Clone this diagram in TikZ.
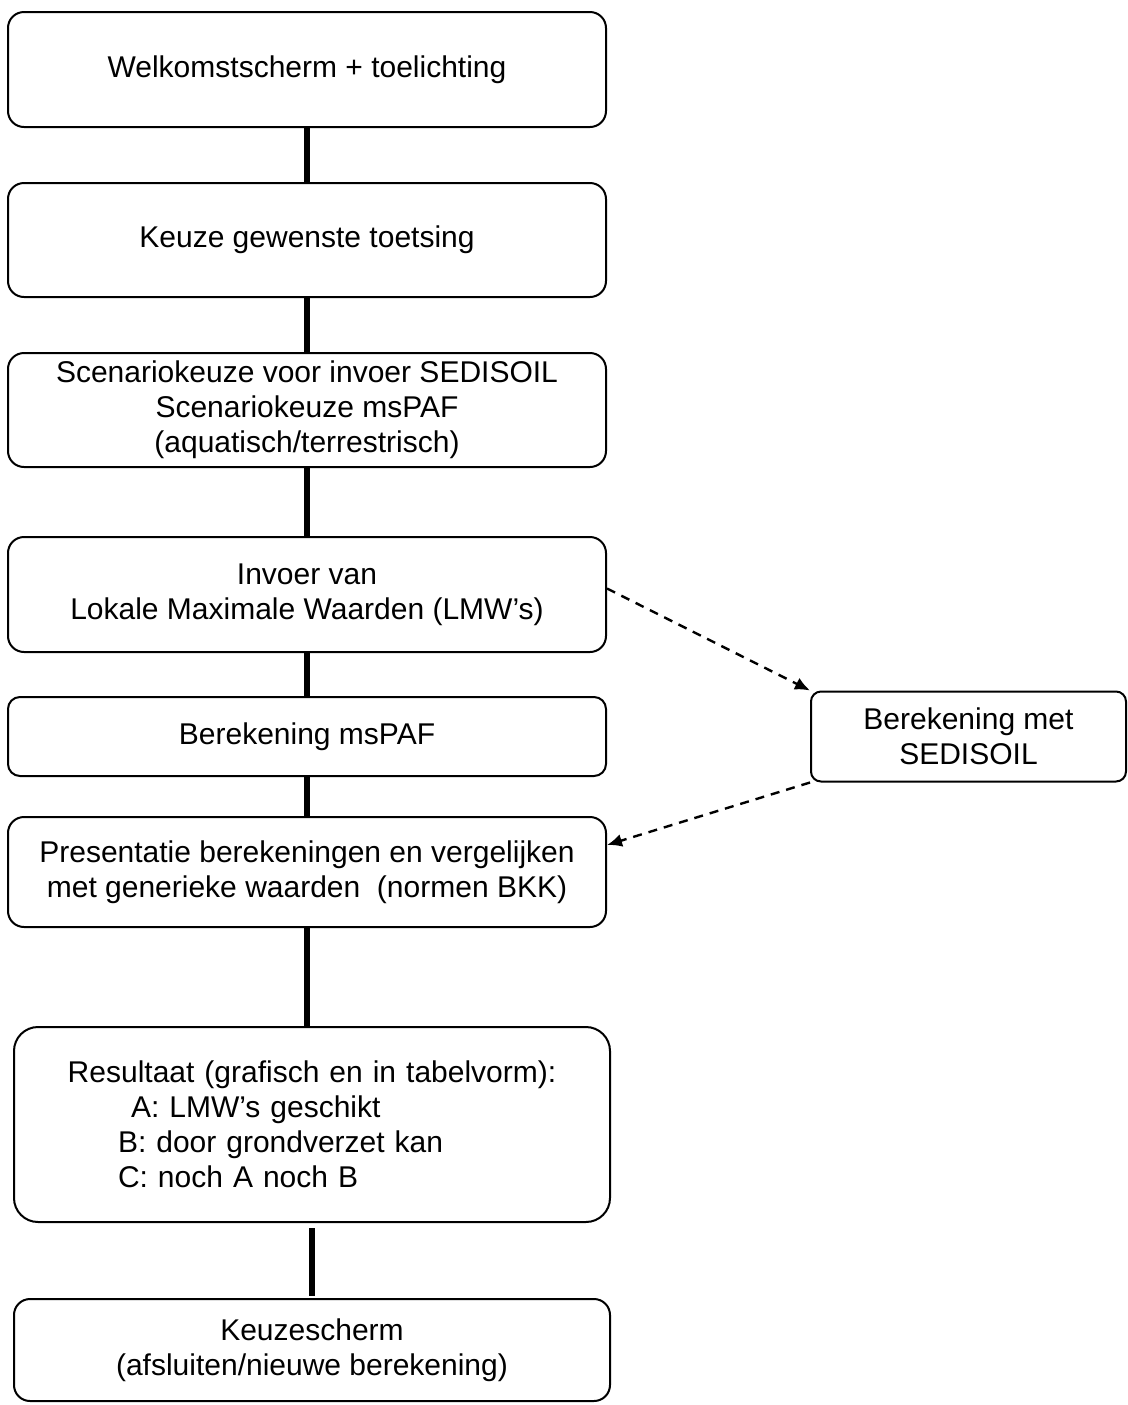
\documentclass[tikz,border=0pt]{standalone}
\usepackage{fontspec}
\setmainfont{Liberation Sans}
\usetikzlibrary{arrows.meta}
\begin{document}
\begin{tikzpicture}[x=0.5pt,y=-0.5pt]
	% Styles
	\tikzstyle{boite}=[draw,line width=1pt,rounded corners=8pt,minimum width=299pt,inner sep=0pt,align=center,font=\fontsize{15}{17.5}\selectfont]
	\tikzstyle{lien}=[-,line width=2.6pt]
	\tikzstyle{fleche}=[-{Latex[length=7.5pt,width=6.5pt]},line width=1.2pt,dash pattern=on 4.5pt off 3.5pt]
	% Cadre
	\useasboundingbox (0,0) rectangle (1128,1405);
	% Noeuds
	\node[boite,minimum height=57.5pt] (accueil) at (307,69.5) {Welkomstscherm + toelichting};
	\node[boite,minimum height=57pt] (toetsing) at (307,240) {Keuze gewenste toetsing};
	\node[boite,minimum height=57pt] (scenario) at (307,410) {Scenariokeuze voor invoer SEDISOIL\\Scenariokeuze msPAF\\(aquatisch/terrestrisch)};
	\node[boite,minimum height=57.5pt] (invoer) at (307,594.5) {Invoer van\\Lokale Maximale Waarden (LMW’s)};
	\node[boite,minimum height=39.5pt,rounded corners=6pt] (mspaf) at (307,736.5) {Berekening msPAF};
	\node[boite,minimum height=55pt] (presentatie) at (307,872) {Presentatie berekeningen en vergelijken\\met generieke waarden\ \ (normen BKK)};
	\node[boite,minimum height=97.5pt,minimum width=298pt,rounded corners=12pt,text width=250pt,align=left] (resultaat) at (312,1124.5) {\makebox[250pt]{Resultaat (grafisch en in tabelvorm):}\\\hspace*{34.5pt}A: LMW’s geschikt\\\hspace*{28pt}B: door grondverzet kan\\\hspace*{28pt}C: noch A noch B};
	\node[boite,minimum height=51pt,minimum width=298pt] (keuze) at (312,1350) {Keuzescherm\\(afsluiten/nieuwe berekening)};
	\node[boite,minimum height=45pt,minimum width=157.5pt,rounded corners=5pt] (sedisoil) at (968.5,736.5) {Berekening met\\SEDISOIL};
	% Liens
	\draw[lien] (accueil) -- (toetsing);
	\draw[lien] (toetsing) -- (scenario);
	\draw[lien] (scenario) -- (invoer);
	\draw[lien] (invoer) -- (mspaf);
	\draw[lien] (mspaf) -- (presentatie);
	\draw[lien] (presentatie) -- (presentatie |- resultaat.north);
	\draw[lien,shorten <=2.5pt,shorten >=1pt] (resultaat) -- (keuze);
	% Fleches SEDISOIL
	\draw[fleche] ([yshift=3pt]invoer.east) -- (sedisoil.north west);
	\draw[fleche] (sedisoil.south west) -- ([yshift=13.5pt]presentatie.east);
\end{tikzpicture}
\end{document}
